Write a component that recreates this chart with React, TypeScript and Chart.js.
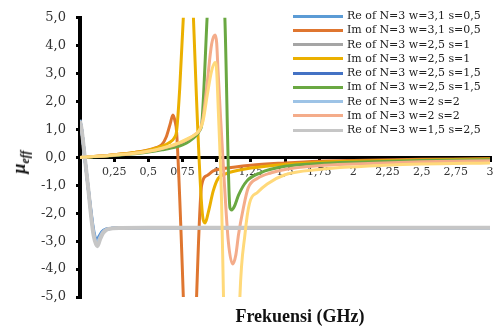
import React, { useEffect, useRef } from 'react';
import { Chart, registerables } from 'chart.js';

Chart.register(...registerables);

type Pt = [number, number];

// Frequency (GHz) / mu_eff pairs
const reW31S05: Pt[] = [
  [0, 1.3], [0.012, 1.0], [0.035, 0], [0.06, -1.1], [0.08, -1.9], [0.1, -2.6], [0.12, -2.95],
  [0.14, -2.82], [0.16, -2.66], [0.19, -2.57], [0.23, -2.54], [0.3, -2.53], [0.5, -2.52],
  [1, -2.52], [1.5, -2.52], [2, -2.52], [2.5, -2.52], [3, -2.52],
];
const imW31S05: Pt[] = [
  [0, 0], [0.1, 0.03], [0.2, 0.07], [0.3, 0.12], [0.4, 0.18], [0.5, 0.27], [0.55, 0.34],
  [0.6, 0.46], [0.63, 0.72], [0.66, 1.2], [0.68, 1.52], [0.695, 1.3], [0.707, 0.9],
  [0.756, -5], [0.78, -9], [0.83, -9], [0.853, -5], [0.89, -1.0], [0.93, -0.65],
  [0.975, -0.48], [1.05, -0.4], [1.25, -0.28], [1.5, -0.2], [1.75, -0.14], [2, -0.11],
  [2.5, -0.07], [3, -0.05],
];
const reW25S1: Pt[] = [
  [0, 1.3], [0.012, 1.0], [0.035, 0], [0.06, -1.1], [0.08, -2.0], [0.1, -2.75], [0.125, -3.1],
  [0.145, -2.9], [0.165, -2.7], [0.195, -2.58], [0.24, -2.54], [0.3, -2.53], [0.5, -2.52],
  [1, -2.52], [1.5, -2.52], [2, -2.52], [2.5, -2.52], [3, -2.52],
];
const imW25S1: Pt[] = [
  [0, 0], [0.1, 0.03], [0.2, 0.07], [0.3, 0.12], [0.4, 0.18], [0.5, 0.26], [0.6, 0.4],
  [0.65, 0.52], [0.69, 0.7], [0.707, 0.95], [0.73, 2.5], [0.756, 5], [0.78, 8], [0.81, 8],
  [0.83, 5], [0.9, -2.2], [0.915, -2.35], [0.94, -1.94], [0.975, -1.2], [1.01, -0.76],
  [1.07, -0.58], [1.15, -0.47], [1.25, -0.38], [1.5, -0.25], [1.75, -0.18], [2, -0.14],
  [2.5, -0.09], [3, -0.06],
];
const reW25S15: Pt[] = [
  [0, 1.3], [0.012, 1.0], [0.035, 0], [0.06, -1.1], [0.08, -1.95], [0.1, -2.7], [0.122, -3.0],
  [0.142, -2.85], [0.162, -2.68], [0.192, -2.57], [0.235, -2.54], [0.3, -2.53], [0.5, -2.52],
  [1, -2.52], [1.5, -2.52], [2, -2.52], [2.5, -2.52], [3, -2.52],
];
const imW25S15: Pt[] = [
  [0, 0], [0.1, 0.02], [0.2, 0.05], [0.3, 0.09], [0.4, 0.13], [0.5, 0.19], [0.6, 0.27],
  [0.7, 0.37], [0.75, 0.45], [0.8, 0.58], [0.85, 0.78], [0.88, 1.0], [0.89, 1.15],
  [0.93, 5], [0.96, 8], [1.03, 8], [1.06, 5], [1.097, -1.8], [1.11, -1.88], [1.13, -1.75],
  [1.16, -1.35], [1.22, -0.85], [1.32, -0.55], [1.5, -0.32], [1.75, -0.22], [2, -0.17],
  [2.5, -0.11], [3, -0.08],
];
const reW2S2: Pt[] = [
  [0, 1.35], [0.012, 1.0], [0.035, 0], [0.06, -1.1], [0.08, -2.0], [0.1, -2.72], [0.123, -3.05],
  [0.143, -2.87], [0.163, -2.69], [0.193, -2.57], [0.237, -2.54], [0.3, -2.53], [0.5, -2.52],
  [1, -2.52], [1.5, -2.52], [2, -2.52], [2.5, -2.52], [3, -2.52],
];
const imW2S2: Pt[] = [
  [0, 0], [0.1, 0.03], [0.2, 0.06], [0.3, 0.1], [0.4, 0.15], [0.5, 0.22], [0.6, 0.32],
  [0.7, 0.46], [0.8, 0.68], [0.85, 0.85], [0.878, 1.0], [0.9, 1.4], [0.927, 2.5],
  [0.963, 4.05], [0.988, 4.38], [1.0, 4.1], [1.01, 3.1], [1.03, 1.3], [1.05, -0.4],
  [1.085, -3.0], [1.117, -3.82], [1.14, -3.5], [1.16, -2.76], [1.195, -1.82], [1.23, -1.1],
  [1.3, -0.75], [1.4, -0.55], [1.5, -0.43], [1.75, -0.3], [2, -0.24], [2.5, -0.16], [3, -0.12],
];
const reW15S25: Pt[] = [
  [0, 1.3], [0.012, 1.0], [0.035, 0], [0.06, -1.1], [0.08, -2.05], [0.1, -2.8], [0.127, -3.18],
  [0.147, -2.93], [0.167, -2.72], [0.197, -2.58], [0.24, -2.54], [0.3, -2.53], [0.5, -2.52],
  [1, -2.52], [1.5, -2.52], [2, -2.52], [2.5, -2.52], [3, -2.52],
];
const imW15S25: Pt[] = [
  [0, 0], [0.1, 0.03], [0.2, 0.06], [0.3, 0.1], [0.4, 0.15], [0.5, 0.22], [0.6, 0.33],
  [0.7, 0.48], [0.8, 0.7], [0.87, 0.95], [0.9, 1.3], [0.93, 2.2], [0.963, 3.1],
  [0.988, 3.4], [1.0, 3.1], [1.01, 1.94], [1.036, -1.6], [1.05, -5], [1.08, -11],
  [1.14, -11], [1.17, -5], [1.207, -2.76], [1.24, -1.65], [1.3, -1.25], [1.37, -0.95],
  [1.5, -0.62], [1.75, -0.43], [2, -0.34], [2.5, -0.24], [3, -0.2],
];

const seriesData: Pt[][] = [
  reW31S05, imW31S05, reW25S1, imW25S1, reW25S15, imW25S15, reW2S2, imW2S2, reW15S25, imW15S25,
];
const seriesLabels = [
  'Re of N=3 w=3,1 s=0,5',
  'Im of N=3 w=3,1 s=0,5',
  'Re of N=3 w=2,5 s=1',
  'Im of N=3 w=2,5 s=1',
  'Re of N=3 w=2,5 s=1,5',
  'Im of N=3 w=2,5 s=1,5',
  'Re of N=3 w=2 s=2',
  'Im of N=3 w=2 s=2',
  'Re of N=3 w=1,5 s=2,5',
  'Im of N=3 w=1,5 s=2,5',
];
const seriesColors = [
  '#5B9BD5', '#DF7630', '#A5A5A5', '#EBB000', '#4472C4',
  '#6AA842', '#9DC3E6', '#F4AC8A', '#C6C6C6', '#FFD97A',
];
const seriesWidths = [3, 3, 3, 3, 3, 3, 3, 3, 4, 3];
const legendCount = 9;

const xMin = 0;
const xMax = 3;
const xStep = 0.25;
const yMin = -5;
const yMax = 5;
const yStep = 1;

const tickFont = "'DejaVu Serif', 'Liberation Serif', serif";

const fmtX = (v: number) => {
  if (Math.abs(v) < 1e-9) return '';
  return String(Math.round(v * 100) / 100).replace('.', ',');
};
const fmtY = (v: number) => Number(v).toFixed(1).replace('.', ',');

function ChartCanvas() {
  const ref = useRef<HTMLCanvasElement | null>(null);
  useEffect(() => {
    if (!ref.current) return;
    const n = seriesData.length;
    const chart = new Chart(ref.current, {
      type: 'line',
      data: {
        datasets: seriesData.map((d, i) => ({
          label: seriesLabels[i],
          data: d.map(([x, y]) => ({ x, y })),
          borderColor: seriesColors[i],
          backgroundColor: seriesColors[i],
          borderWidth: seriesWidths[i],
          pointRadius: 0,
          fill: false,
          cubicInterpolationMode: 'monotone' as const,
          order: n - i,
        })),
      },
      options: {
        animation: false,
        responsive: true,
        maintainAspectRatio: false,
        events: [],
        layout: { padding: { left: 0, right: 9, top: 13, bottom: 34 } },
        plugins: { legend: { display: false }, tooltip: { enabled: false } },
        scales: {
          x: {
            type: 'linear',
            min: xMin,
            max: xMax,
            position: { y: 0 } as any,
            afterFit: (s: any) => { s.height = 0; },
            ticks: {
              stepSize: xStep,
              autoSkip: false,
              maxRotation: 0,
              color: '#333',
              padding: 5,
              font: { family: tickFont, size: 11 },
              callback: (v: any) => fmtX(Number(v)),
            },
            grid: {
              display: true,
              drawOnChartArea: false,
              drawTicks: true,
              tickLength: 3,
              color: '#000',
              lineWidth: 3,
            },
            border: { display: true, color: '#000', width: 3 },
          },
          y: {
            type: 'linear',
            min: yMin,
            max: yMax,
            position: 'left',
            afterFit: (s: any) => { s.width = 80; },
            ticks: {
              stepSize: yStep,
              color: '#333',
              padding: 10,
              font: { family: tickFont, size: 13 },
              callback: (v: any) => fmtY(Number(v)),
            },
            grid: {
              display: true,
              drawOnChartArea: false,
              drawTicks: true,
              tickLength: 4,
              color: '#000',
              lineWidth: 3,
            },
            border: { display: true, color: '#000', width: 4 },
          },
        },
      },
    });
    return () => chart.destroy();
  }, []);
  return <canvas ref={ref} style={{ display: 'block' }} />;
}

export default function App() {
  const rowStart = 16;
  const rowGap = 14.25;
  return (
    <div
      style={{
        position: 'fixed',
        left: 0,
        top: 0,
        width: 499,
        height: 331,
        background: '#fff',
        overflow: 'hidden',
      }}
    >
      <div style={{ position: 'absolute', left: 0, top: 0, width: 499, height: 331 }}>
        <ChartCanvas />
      </div>
      {seriesLabels.slice(0, legendCount).map((label, i) => {
        const cy = rowStart + i * rowGap;
        return (
          <React.Fragment key={label}>
            <div
              style={{
                position: 'absolute',
                left: 293,
                top: cy - 1.5,
                width: 50,
                height: 3,
                background: seriesColors[i],
              }}
            />
            <div
              style={{
                position: 'absolute',
                left: 347,
                top: cy - 7,
                height: 14,
                lineHeight: '14px',
                fontFamily: tickFont,
                fontSize: 11,
                color: '#222',
                whiteSpace: 'nowrap',
              }}
            >
              {label}
            </div>
          </React.Fragment>
        );
      })}
      <div
        style={{
          position: 'absolute',
          left: 300,
          top: 306,
          transform: 'translateX(-50%)',
          fontFamily: "'Liberation Serif', serif",
          fontWeight: 'bold',
          fontSize: 18,
          lineHeight: '20px',
          color: '#111',
          whiteSpace: 'nowrap',
        }}
      >
        Frekuensi (GHz)
      </div>
      <div
        style={{
          position: 'absolute',
          left: 22,
          top: 162,
          transform: 'translate(-50%, -50%) rotate(-90deg)',
          fontFamily: "'Liberation Serif', serif",
          fontWeight: 'bold',
          fontStyle: 'italic',
          color: '#111',
          whiteSpace: 'nowrap',
          lineHeight: '20px',
        }}
      >
        <span style={{ fontSize: 18 }}>μ</span>
        <sub style={{ fontSize: 12 }}>eff</sub>
      </div>
    </div>
  );
}
